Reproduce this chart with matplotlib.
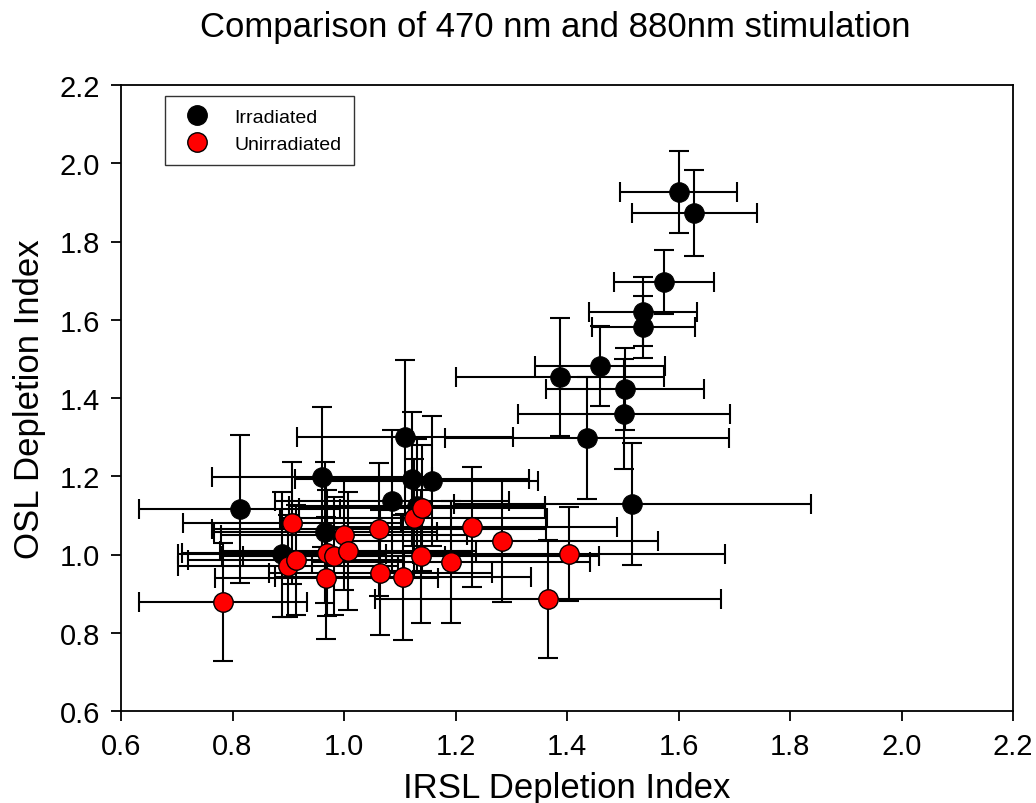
import matplotlib
matplotlib.use("Agg")
import matplotlib.pyplot as plt
from matplotlib.lines import Line2D

plt.rcParams['font.family'] = ['Liberation Sans', 'DejaVu Sans']

title = "Comparison of 470 nm and 880nm stimulation"
xlabel = "IRSL Depletion Index"
ylabel = "OSL Depletion Index"
ticks = [0.6, 0.8, 1.0, 1.2, 1.4, 1.6, 1.8, 2.0, 2.2]
tick_labels = ["0.6", "0.8", "1.0", "1.2", "1.4", "1.6", "1.8", "2.0", "2.2"]

irr_x = [1.600, 1.628, 1.574, 1.537, 1.537, 1.459, 1.387, 1.504, 1.502, 1.436,
         1.517, 1.109, 1.158, 1.122, 0.961, 0.813, 1.086, 0.966, 0.889, 1.131]
irr_y = [1.927, 1.873, 1.696, 1.620, 1.581, 1.482, 1.454, 1.423, 1.359, 1.298,
         1.129, 1.300, 1.188, 1.193, 1.198, 1.116, 1.137, 1.057, 1.001, 1.124]
irr_xerr = [0.105, 0.112, 0.090, 0.097, 0.093, 0.116, 0.187, 0.141, 0.190, 0.255,
            0.320, 0.194, 0.190, 0.210, 0.197, 0.180, 0.210, 0.200, 0.187, 0.230]
irr_yerr = [0.105, 0.109, 0.081, 0.088, 0.079, 0.102, 0.150, 0.105, 0.140, 0.156,
            0.156, 0.197, 0.166, 0.170, 0.180, 0.190, 0.180, 0.180, 0.160, 0.170]

unirr_x = [0.783, 0.907, 0.900, 0.914, 0.968, 0.969, 0.982, 1.000, 1.007, 1.063,
           1.065, 1.106, 1.125, 1.140, 1.138, 1.192, 1.230, 1.283, 1.366, 1.403]
unirr_y = [0.879, 1.081, 0.971, 0.986, 0.940, 1.004, 0.996, 1.050, 1.009, 1.065,
           0.953, 0.942, 1.093, 1.119, 0.996, 0.981, 1.070, 1.035, 0.886, 1.001]
unirr_xerr = [0.150, 0.196, 0.197, 0.194, 0.200, 0.260, 0.200, 0.220, 0.230, 0.300,
              0.200, 0.230, 0.240, 0.220, 0.320, 0.250, 0.260, 0.280, 0.310, 0.280]
unirr_yerr = [0.150, 0.156, 0.130, 0.140, 0.156, 0.160, 0.150, 0.140, 0.150, 0.170,
              0.160, 0.160, 0.150, 0.160, 0.170, 0.156, 0.153, 0.156, 0.150, 0.120]

fig = plt.figure(figsize=(10.36, 8.04), dpi=100)
ax = fig.add_axes([121/1036, 92/804, (1013-121)/1036, (712-86)/804])

eb_kw = dict(fmt='none', ecolor='black', elinewidth=1.5, capsize=7, capthick=1.5)
ax.errorbar(irr_x, irr_y, xerr=irr_xerr, yerr=irr_yerr, zorder=2, **eb_kw)
ax.errorbar(unirr_x, unirr_y, xerr=unirr_xerr, yerr=unirr_yerr, zorder=2, **eb_kw)
ax.plot(irr_x, irr_y, 'o', color='black', markersize=14, markeredgecolor='black',
        markeredgewidth=0.8, zorder=3, linestyle='none')
ax.plot(unirr_x, unirr_y, 'o', color='#ff0000', markersize=14, markeredgecolor='black',
        markeredgewidth=1.0, zorder=4, linestyle='none')

ax.set_xlim(0.6, 2.2)
ax.set_ylim(0.6, 2.2)
ax.set_xticks(ticks)
ax.set_xticklabels(tick_labels)
ax.set_yticks(ticks)
ax.set_yticklabels(tick_labels)
ax.tick_params(direction='out', length=7, width=1.3, labelsize=21, pad=8,
               top=False, right=False)
for s in ax.spines.values():
    s.set_linewidth(1.3)

ax.set_xlabel(xlabel, fontsize=25, labelpad=8)
ax.set_ylabel(ylabel, fontsize=25, labelpad=10)
fig.text(555/1036, 1 - 28/804, title, ha='center', va='center', fontsize=25)

handles = [
    Line2D([], [], marker='o', color='black', markersize=14, markeredgecolor='black',
           linestyle='none', label='Irradiated'),
    Line2D([], [], marker='o', color='#ff0000', markersize=14, markeredgecolor='black',
           linestyle='none', label='Unirradiated'),
]
leg = ax.legend(handles=handles, loc='upper left', bbox_to_anchor=(44/892, 1 - 11/626),
                fontsize=14, frameon=True, fancybox=False, edgecolor='black',
                borderpad=0.65, handletextpad=0.9, labelspacing=0.45, borderaxespad=0,
                handlelength=2.0)
leg.get_frame().set_linewidth(1.0)

fig.savefig("out.png", dpi=100)
